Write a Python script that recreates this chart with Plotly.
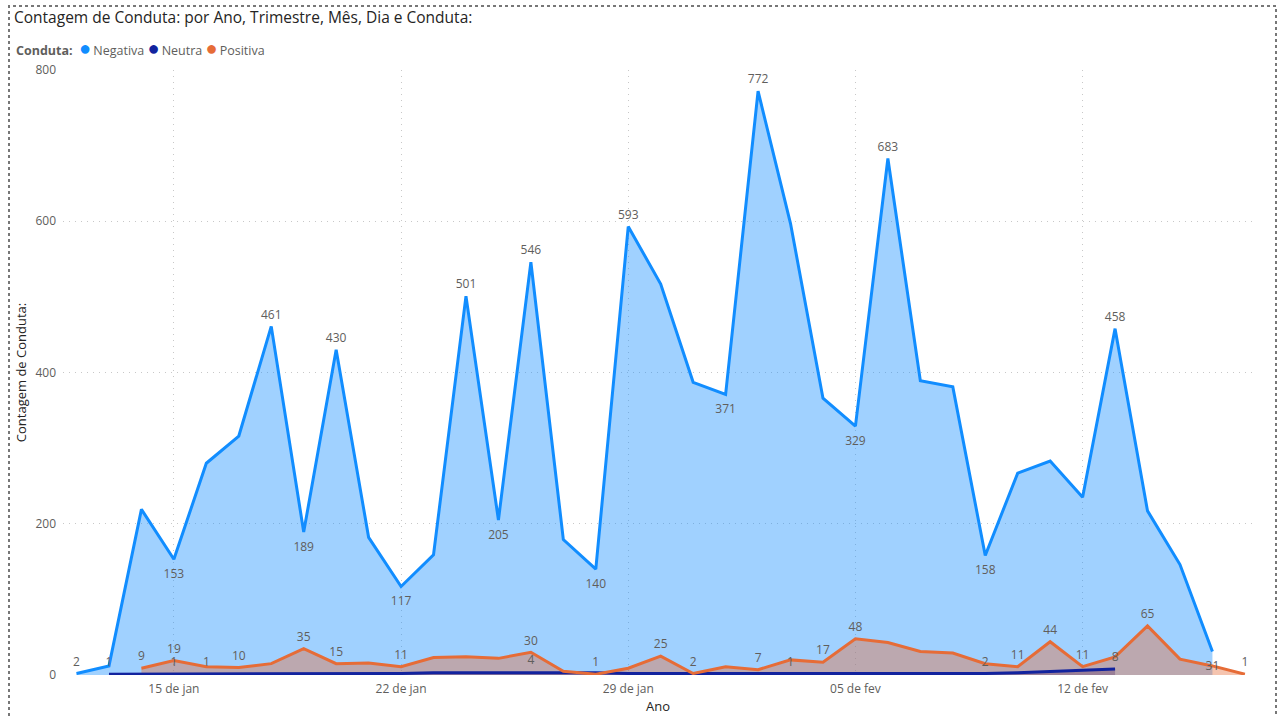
import plotly.graph_objects as go
import pandas as pd

# ---------------- data ----------------
neg_start = "2021-01-12"
negativa = [2, 12, 219, 153, 280, 316, 461, 189, 430, 182, 117, 159, 501, 205, 546, 179,
            140, 593, 517, 387, 371, 772, 597, 366, 329, 683, 389, 381, 158, 267, 283,
            235, 458, 217, 146, 31]

neu_start = "2021-01-13"
neutra = [1, 1, 1, 1, 1, 1, 2, 2, 2, 2, 3, 3, 3, 4, 3, 3, 2, 2, 2, 1, 1, 1, 1, 1, 1, 1,
          1, 2, 3, 5, 6, 8]

pos_start = "2021-01-14"
positiva = [9, 19, 11, 10, 15, 35, 15, 16, 11, 23, 24, 22, 30, 5, 1, 9, 25, 2, 11, 7, 20,
            17, 48, 43, 31, 29, 15, 11, 44, 11, 24, 65, 21, 12, 1]

# data labels shown (date -> above/below)
neg_labels = {"2021-01-12": "top", "2021-01-15": "bottom", "2021-01-18": "top",
              "2021-01-19": "bottom", "2021-01-20": "top", "2021-01-22": "bottom",
              "2021-01-24": "top", "2021-01-25": "bottom", "2021-01-26": "top",
              "2021-01-28": "bottom", "2021-01-29": "top", "2021-02-01": "bottom",
              "2021-02-02": "top", "2021-02-05": "bottom", "2021-02-06": "top",
              "2021-02-09": "bottom", "2021-02-13": "top", "2021-02-16": "bottom"}
neu_labels = {"2021-01-13": "top", "2021-01-15": "top", "2021-01-16": "top",
              "2021-01-26": "top", "2021-02-03": "top", "2021-02-09": "top",
              "2021-02-13": "top"}
pos_labels = {"2021-01-14": "top", "2021-01-15": "top", "2021-01-17": "top",
              "2021-01-19": "top", "2021-01-20": "top", "2021-01-22": "top",
              "2021-01-26": "top", "2021-01-28": "top", "2021-01-30": "top",
              "2021-01-31": "top", "2021-02-02": "top", "2021-02-04": "top",
              "2021-02-05": "top", "2021-02-10": "top", "2021-02-11": "top",
              "2021-02-12": "top", "2021-02-14": "top", "2021-02-17": "top"}

tick_dates = ["2021-01-15", "2021-01-22", "2021-01-29", "2021-02-05", "2021-02-12"]
tick_text = ["15 de jan", "22 de jan", "29 de jan", "05 de fev", "12 de fev"]
y_ticks = [0, 200, 400, 600, 800]

colors = {"Negativa": "#118DFF", "Neutra": "#12239E", "Positiva": "#E66C37"}
fills = {"Negativa": "rgba(17,141,255,0.4)", "Neutra": "rgba(18,35,158,0.4)",
         "Positiva": "rgba(230,108,55,0.4)"}

FONT = "Open Sans"
W, H = 1278, 717
ML, MR, MT, MB = 63, 25, 70, 42


def dates(start, n):
    return [d.strftime("%Y-%m-%d") for d in pd.date_range(start, periods=n, freq="D")]


series = [("Negativa", neg_start, negativa, neg_labels),
          ("Neutra", neu_start, neutra, neu_labels),
          ("Positiva", pos_start, positiva, pos_labels)]

fig = go.Figure()
# filled areas first
for name, start, vals, labels in series:
    xs = dates(start, len(vals))
    fig.add_trace(go.Scatter(x=xs, y=vals, name=name, mode="lines", fill="tozeroy",
                             fillcolor=fills[name], line=dict(width=0, color=colors[name]),
                             showlegend=False, hoverinfo="skip"))
# lines on top
for name, start, vals, labels in series:
    xs = dates(start, len(vals))
    fig.add_trace(go.Scatter(x=xs, y=vals, name=name, mode="lines",
                             line=dict(color=colors[name], width=3), showlegend=False))
# data labels (invisible markers give the offset from the point)
for name, start, vals, labels in series:
    xs = dates(start, len(vals))
    for side, msize in [("top", 6), ("bottom", 14)]:
        sel = [(x, v) for x, v in zip(xs, vals) if labels.get(x) == side]
        if not sel:
            continue
        fig.add_trace(go.Scatter(
            x=[s[0] for s in sel], y=[s[1] for s in sel], mode="markers+text",
            text=[str(s[1]) for s in sel], textposition=f"{side} center",
            marker=dict(size=msize, color="rgba(0,0,0,0)"),
            textfont=dict(family=FONT, size=12, color="#605E5C"),
            showlegend=False, hoverinfo="skip", cliponaxis=False))

left = pd.Timestamp("2021-01-12") - pd.Timedelta(hours=10)
right = pd.Timestamp("2021-02-17") + pd.Timedelta(hours=6)

grid = dict(showgrid=True, gridcolor="#C8C8C8", griddash="1px,5px", gridwidth=1)
fig.update_xaxes(range=[left, right], tickvals=tick_dates, ticktext=tick_text, automargin=False,
                 tickfont=dict(family=FONT, size=12, color="#605E5C"), ticklabelstandoff=5,
                 title=dict(text="Ano", font=dict(family=FONT, size=13, color="#252423"), standoff=5),
                 showline=False, zeroline=False, ticks="", **grid)
fig.update_yaxes(range=[0, 800], tickvals=y_ticks, automargin=False,
                 tickfont=dict(family=FONT, size=12, color="#605E5C"), ticklabelstandoff=6,
                 title=dict(text="Contagem de Conduta:", font=dict(family=FONT, size=13, color="#252423"),
                            standoff=5),
                 showline=False, zeroline=False, ticks="", **grid)

pw = W - ML - MR
ph = H - MT - MB


def px(x):
    return (x - ML) / pw


def py(y):
    return (H - MB - y) / ph


fig.add_shape(type="rect", xref="paper", yref="paper", x0=px(9), x1=px(1276), y0=py(725), y1=py(6),
              line=dict(color="#777777", width=2, dash="dot"), fillcolor="rgba(0,0,0,0)", layer="above")

legend_html = ("<b>Conduta:</b>&nbsp;&nbsp;"
               + "&nbsp;".join(f"<span style='color:{colors[n]};font-size:20px'>●</span>\u2009{n}"
                               for n in ["Negativa", "Neutra", "Positiva"]))
fig.add_annotation(text=legend_html, xref="paper", yref="paper", x=px(14), y=py(47),
                   xanchor="left", yanchor="middle", showarrow=False,
                   font=dict(family=FONT, size=12.5, color="#605E5C"))

fig.update_layout(
    width=W, height=H,
    margin=dict(l=ML, r=MR, t=MT, b=MB),
    paper_bgcolor="white", plot_bgcolor="white",
    title=dict(text="Contagem de Conduta: por Ano, Trimestre, Mês, Dia e Conduta:",
               x=14 / W, xanchor="left", xref="container", y=1 - 18 / H, yanchor="middle", yref="container",
               font=dict(family=FONT, size=15.5, color="#252423")),
    showlegend=False,
)

fig.write_html("out.html", config={"displayModeBar": False},
               post_script="document.body.style.margin='0';")
